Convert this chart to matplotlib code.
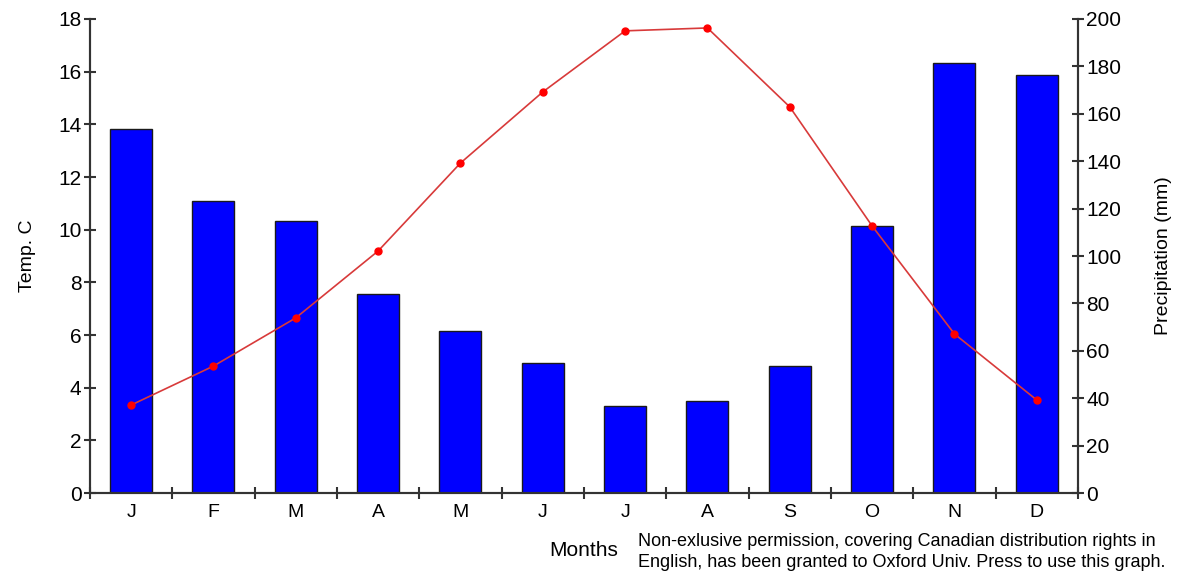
import matplotlib.pyplot as plt
import numpy as np

plt.rcParams['font.family'] = ['Liberation Sans Narrow', 'Liberation Sans', 'DejaVu Sans']

# Vancouver climate data
months = ['J', 'F', 'M', 'A', 'M', 'J', 'J', 'A', 'S', 'O', 'N', 'D']
precip = [153.6, 123, 114.8, 84, 68.4, 54.9, 36.7, 38.8, 53.6, 112.7, 181.4, 176.4]
temp = [3.34, 4.82, 6.65, 9.19, 12.53, 15.23, 17.55, 17.66, 14.66, 10.14, 6.04, 3.53]

fig = plt.figure(figsize=(11.79, 5.74), dpi=100)
ax = fig.add_axes([0.0763, 0.1411, 0.838, 0.8258])
ax2 = ax.twinx()

x = np.arange(len(months))

# bars on precipitation axis, line on temperature axis
ax2.bar(x, precip, width=0.51, color='#0000ff', edgecolor='#1a1a1a', linewidth=1)
ax.set_zorder(ax2.get_zorder() + 1)
ax.patch.set_visible(False)
ax.plot(x, temp, color='#d83a3a', linewidth=1.2, marker='o', markersize=5,
        markerfacecolor='red', markeredgecolor='red')

ax.set_xlim(-0.5, 11.5)
ax.set_ylim(0, 18)
ax2.set_ylim(0, 200)
ax.set_yticks(range(0, 19, 2))
ax2.set_yticks(range(0, 201, 20))

ax.set_xticks(x)
ax.set_xticklabels(months)
ax.set_xticks(np.arange(-0.5, 12, 1), minor=True)
ax.tick_params(axis='x', which='major', length=0, pad=8, labelsize=14)
ax.tick_params(axis='x', which='minor', length=8, direction='inout', width=1.5, color='#333333')
ax.tick_params(axis='y', length=8, direction='inout', width=1.5, color='#333333', labelsize=15, pad=2)
ax2.tick_params(axis='y', length=8, direction='inout', width=1.5, color='#333333', labelsize=15, pad=2)

for a in (ax, ax2):
    a.spines['top'].set_visible(False)
    for s in ('left', 'right', 'bottom'):
        a.spines[s].set_linewidth(1.5)
        a.spines[s].set_color('#333333')

ax.set_ylabel('Temp. C', fontsize=14, labelpad=16)
ax2.set_ylabel('Precipitation (mm)', fontsize=14, labelpad=24)

fig.text(0.466, 0.032, 'Months', fontsize=15)
fig.text(0.541, 0.012,
         'Non-exlusive permission, covering Canadian distribution rights in\n'
         'English, has been granted to Oxford Univ. Press to use this graph.',
         fontsize=13, linespacing=1.35)

fig.savefig('out.png', dpi=100)
